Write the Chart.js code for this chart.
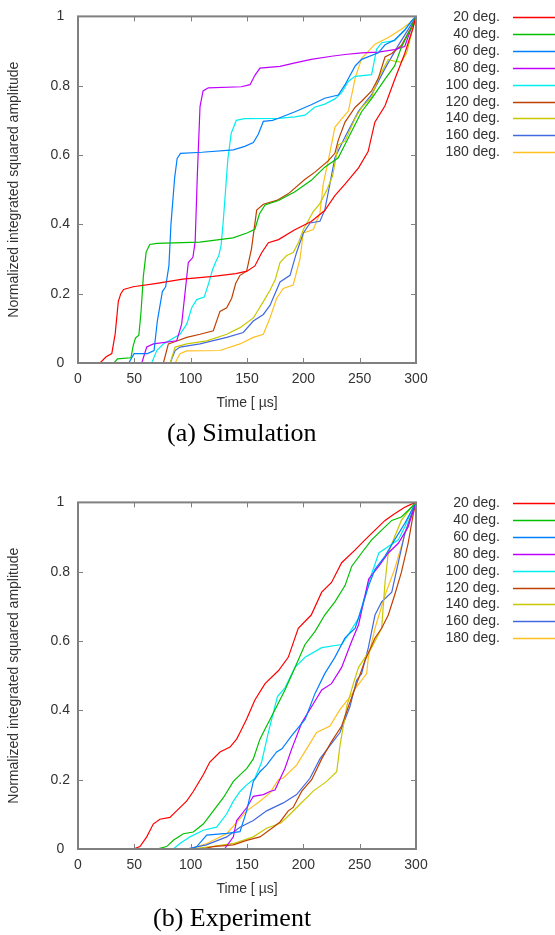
<!DOCTYPE html>
<html>
<head>
<meta charset="UTF-8">
<title>Normalized integrated squared amplitude</title>
<script src="https://cdn.jsdelivr.net/npm/chart.js"></script>
<style>
  body { margin: 0; width: 555px; height: 935px; background: #fff; position: relative; overflow: hidden; }
  canvas { position: absolute; left: 0; }
  .caption { position: absolute; white-space: nowrap; font-family: 'Liberation Serif', 'Times New Roman', serif; font-size: 26px; line-height: 30px; color: #000; }
</style>
</head>
<body>
<canvas id="simChart" width="555" height="450" style="top:0"></canvas>
<div class="caption" style="left:167px; top:418px">(a) Simulation</div>
<canvas id="expChart" width="555" height="450" style="top:486px"></canvas>
<div class="caption" style="left:153px; top:903px">(b) Experiment</div>

<script>
// series labels and colours (gnuplot defaults)
const angles = ['20 deg.', '40 deg.', '60 deg.', '80 deg.', '100 deg.', '120 deg.', '140 deg.', '160 deg.', '180 deg.'];
const colors = ['#ff0000', '#00c000', '#0080ff', '#c000ff', '#00eeee', '#c04000', '#c8c800', '#4169e1', '#ffc020'];
const xTicks = [0, 50, 100, 150, 200, 250, 300];   // Time [us]
const yTicks = [0, 0.2, 0.4, 0.6, 0.8, 1];

// (a) simulation, [time, amplitude]
const sim20 = [[0,0],[19.5,0],[25,0.018],[30,0.027],[33,0.084],[35.8,0.178],[38,0.2],[40.5,0.212],[49,0.22],[70,0.23],[93,0.242],[120,0.25],[140,0.258],[150,0.265],[157,0.28],[163,0.318],[169,0.347],[178,0.356],[192,0.384],[207,0.408],[219,0.44],[228,0.483],[237,0.516],[249,0.563],[257.5,0.61],[263.5,0.695],[272.5,0.742],[281,0.817],[290,0.893],[297.5,0.968],[300,1]];
const sim40 = [[0,0],[32,0],[35,0.012],[47,0.015],[49,0.05],[51,0.072],[54,0.08],[56,0.15],[58,0.25],[60.5,0.32],[63.7,0.342],[70,0.345],[108,0.349],[137.6,0.361],[150,0.375],[157,0.386],[161,0.43],[166,0.456],[178,0.469],[192.6,0.494],[207,0.527],[219,0.565],[231,0.592],[240,0.65],[251.7,0.725],[260.6,0.763],[272.5,0.819],[281,0.857],[287,0.911],[296,0.968],[300,1]];
const sim60 = [[0,0],[45,0],[49.8,0.027],[61.6,0.027],[67.5,0.036],[70.4,0.121],[74.9,0.206],[77.8,0.22],[80.7,0.281],[82.5,0.4],[85.8,0.535],[88,0.59],[91,0.605],[110,0.608],[137.9,0.615],[148,0.625],[155.6,0.636],[160,0.66],[164.5,0.697],[172.6,0.70],[178,0.706],[192.6,0.725],[207,0.745],[219,0.764],[231,0.773],[237,0.803],[246,0.857],[251.7,0.876],[266.6,0.895],[272.5,0.918],[281,0.932],[290,0.96],[296,0.987],[300,1]];
const sim80 = [[0,0],[56.6,0],[61,0.046],[67,0.055],[87.6,0.064],[92,0.112],[97.9,0.29],[102,0.305],[104,0.35],[106,0.55],[108.3,0.74],[111,0.785],[115.7,0.794],[145,0.797],[152.7,0.803],[157,0.83],[161.5,0.851],[179.3,0.856],[192.6,0.866],[207,0.876],[225,0.885],[237,0.89],[251.7,0.895],[266.6,0.897],[281,0.904],[290,0.913],[295,0.959],[300,1]];
const sim100 = [[0,0],[65.4,0],[69.9,0.036],[75.8,0.055],[90.5,0.083],[96.5,0.112],[101,0.16],[105.4,0.183],[112,0.19],[116,0.23],[119.5,0.27],[122,0.29],[125,0.31],[127,0.34],[128.7,0.4],[131,0.5],[133,0.588],[136,0.663],[140.5,0.70],[148,0.705],[178,0.706],[192.6,0.71],[201.5,0.715],[210,0.738],[219,0.747],[228,0.762],[234,0.78],[240,0.813],[246,0.827],[260.6,0.832],[265,0.905],[269.5,0.924],[281,0.93],[290,0.962],[300,1]];
const sim120 = [[0,0],[75.8,0],[80.2,0.055],[84.6,0.06],[96.5,0.074],[108.3,0.083],[120.1,0.093],[126,0.149],[132,0.159],[136.4,0.187],[140,0.23],[143.8,0.253],[149.7,0.265],[154,0.33],[158.6,0.441],[164.5,0.458],[176.4,0.469],[186.6,0.488],[201.5,0.53],[210,0.55],[222,0.583],[228,0.605],[231,0.643],[237,0.695],[246,0.738],[252,0.756],[260.6,0.785],[266.6,0.822],[272.5,0.883],[278.5,0.893],[287,0.916],[296,0.97],[300,1]];
const sim140 = [[0,0],[81.8,0],[86.2,0.046],[96.5,0.055],[114.2,0.064],[132,0.083],[143.8,0.102],[155.6,0.13],[164.5,0.177],[170.4,0.21],[175,0.24],[179.3,0.29],[185.2,0.31],[191,0.319],[196,0.35],[200,0.385],[208.8,0.437],[214.7,0.46],[220.7,0.498],[226,0.54],[231,0.629],[237,0.64],[246,0.706],[251.7,0.737],[260.6,0.767],[266.6,0.822],[275.4,0.876],[282,0.87],[287,0.868],[291.7,0.895],[296,0.951],[300,1]];
const sim160 = [[0,0],[81.8,0],[86.2,0.036],[90.5,0.046],[108.3,0.055],[132,0.074],[146.7,0.088],[155.6,0.121],[164.5,0.14],[170.4,0.166],[179.3,0.234],[188.2,0.253],[194,0.319],[200,0.375],[206,0.404],[214.7,0.409],[219,0.441],[223.6,0.517],[228,0.592],[237,0.652],[249,0.727],[260.6,0.774],[272.5,0.85],[284,0.915],[293,0.962],[300,1]];
const sim180 = [[0,0],[86.2,0],[90.5,0.027],[96.5,0.035],[126,0.036],[143.8,0.055],[155.6,0.074],[164.5,0.083],[170.4,0.13],[176.3,0.187],[182.2,0.215],[191,0.225],[197,0.3],[200,0.375],[208.8,0.385],[214.7,0.432],[217.7,0.517],[222,0.582],[228,0.68],[234,0.704],[240,0.727],[246,0.822],[251.7,0.878],[263.6,0.92],[275.4,0.939],[287,0.963],[296,0.985],[300,1]];

// (b) experiment, [time, amplitude]
const exp20 = [[0,0],[49,0],[55,0.007],[61,0.035],[66.8,0.072],[72.7,0.086],[81.6,0.091],[87.5,0.11],[96.4,0.138],[102.3,0.166],[111.2,0.214],[117,0.251],[126,0.28],[134.9,0.294],[140.8,0.317],[143.8,0.336],[149.7,0.375],[157,0.43],[166,0.477],[178,0.515],[186.6,0.553],[195.5,0.637],[207,0.675],[216.3,0.741],[225,0.769],[234,0.826],[246,0.863],[254.7,0.892],[263.6,0.92],[272.5,0.948],[281,0.967],[290,0.986],[296,0.995],[300,1]];
const exp40 = [[0,0],[69.8,0],[78.7,0.007],[84.6,0.025],[93.5,0.044],[102.3,0.049],[111.2,0.072],[120.1,0.11],[129,0.148],[137.9,0.195],[143.8,0.214],[149.7,0.232],[155.6,0.26],[161.5,0.317],[167.4,0.355],[176.3,0.411],[183.7,0.459],[192.6,0.524],[201.5,0.59],[210.4,0.628],[219,0.675],[228,0.713],[237,0.76],[243,0.816],[251.7,0.854],[260.6,0.892],[269.5,0.92],[278.5,0.948],[287,0.958],[296,0.986],[300,1]];
const exp60 = [[0,0],[100,0],[105.4,0.007],[114.2,0.04],[132,0.045],[143.8,0.05],[149.7,0.11],[155.6,0.195],[161.5,0.223],[167.4,0.242],[176.3,0.28],[181,0.289],[189.7,0.327],[201.5,0.374],[210.4,0.449],[219,0.506],[228,0.553],[237,0.609],[246,0.637],[251.7,0.694],[258,0.76],[263.6,0.807],[272.5,0.845],[281,0.892],[290,0.939],[296,0.976],[300,1]];
const exp80 = [[0,0],[130,0],[137.9,0.035],[140.8,0.082],[149.7,0.119],[155.6,0.152],[164.5,0.157],[170.4,0.166],[174.8,0.17],[183.7,0.233],[189.7,0.289],[198.6,0.364],[207.4,0.411],[216.3,0.459],[225,0.477],[234,0.524],[243,0.6],[249,0.647],[258,0.779],[267,0.816],[275.4,0.854],[284.3,0.882],[293,0.929],[297.6,0.976],[300,1]];
const exp100 = [[0,0],[84.6,0],[90.5,0.016],[99.4,0.035],[111.2,0.054],[123,0.063],[131.9,0.101],[137.9,0.138],[143.8,0.166],[149.7,0.185],[157,0.204],[163,0.251],[168.9,0.336],[177,0.44],[183.7,0.465],[192.6,0.524],[201.5,0.553],[216.3,0.581],[234,0.59],[240,0.619],[249,0.666],[258,0.769],[267,0.854],[275.4,0.873],[284.3,0.892],[290,0.929],[296,0.976],[300,1]];
const exp120 = [[0,0],[110,0],[120,0.007],[137.9,0.012],[149.7,0.025],[161.5,0.035],[173.3,0.063],[179.3,0.078],[186.6,0.11],[191,0.12],[198.6,0.167],[207.4,0.2],[216.3,0.26],[225,0.31],[234,0.355],[240,0.411],[246,0.465],[254.7,0.543],[263.6,0.609],[269.5,0.637],[275.4,0.675],[281,0.732],[287,0.798],[293,0.882],[297.6,0.967],[300,1]];
const exp140 = [[0,0],[100,0],[120,0.008],[137.9,0.016],[155.6,0.035],[167.4,0.06],[180,0.075],[185.2,0.091],[197,0.129],[208.8,0.167],[220.7,0.195],[229.6,0.223],[232.5,0.298],[238.5,0.411],[244.4,0.477],[249,0.524],[260.6,0.581],[269.5,0.637],[272.5,0.769],[275.4,0.854],[281,0.901],[287,0.948],[296,0.986],[300,1]];
const exp160 = [[0,0],[96,0],[114,0.012],[132,0.035],[143.8,0.063],[155.6,0.082],[167.4,0.11],[182.2,0.133],[194,0.157],[205.9,0.204],[214.7,0.26],[223.6,0.298],[232.5,0.336],[241.4,0.411],[247.3,0.487],[251.7,0.506],[257.7,0.581],[263.6,0.675],[269.5,0.713],[278.5,0.741],[284.3,0.826],[290,0.91],[296,0.967],[300,1]];
const exp180 = [[0,0],[100,0],[114.2,0.016],[132,0.044],[149.7,0.11],[161.5,0.138],[170.4,0.162],[177.8,0.2],[182.2,0.205],[194,0.242],[202.9,0.289],[211.8,0.336],[223.6,0.355],[232.5,0.402],[241.4,0.439],[247.3,0.468],[256.2,0.506],[257.7,0.553],[263.6,0.637],[272.5,0.732],[281,0.807],[287,0.873],[293,0.939],[297.6,0.986],[300,1]];

const simSeries = [sim20, sim40, sim60, sim80, sim100, sim120, sim140, sim160, sim180];
const expSeries = [exp20, exp40, exp60, exp80, exp100, exp120, exp140, exp160, exp180];

Chart.defaults.font.family = "'Liberation Sans', Arial, sans-serif";
Chart.defaults.font.size = 14;
Chart.defaults.color = '#333';

// gnuplot style box with inward ticks on all sides
const frame = {
  id: 'frame',
  afterDatasetsDraw(chart, args, o) {
    const {ctx, chartArea: a, scales: {x, y}} = chart;
    ctx.save();
    ctx.strokeStyle = o.color;
    ctx.lineWidth = 1;
    ctx.beginPath();
    xTicks.forEach(v => {
      const px = Math.round(x.getPixelForValue(v)) + 0.5;
      ctx.moveTo(px, a.bottom); ctx.lineTo(px, a.bottom - o.len);
      ctx.moveTo(px, a.top); ctx.lineTo(px, a.top + o.len);
    });
    yTicks.forEach(v => {
      const py = Math.round(y.getPixelForValue(v)) + 0.5;
      ctx.moveTo(a.left, py); ctx.lineTo(a.left + o.len, py);
      ctx.moveTo(a.right, py); ctx.lineTo(a.right - o.len, py);
    });
    ctx.stroke();
    ctx.lineWidth = o.width;
    ctx.strokeRect(a.left, a.top, a.right - a.left, a.bottom - a.top);
    ctx.restore();
  }
};

// key on the right: label then line sample
const keyList = {
  id: 'keyList',
  afterDraw(chart, args, o) {
    const ctx = chart.ctx;
    ctx.save();
    ctx.font = "14px 'Liberation Sans', Arial, sans-serif";
    ctx.textAlign = 'right';
    ctx.textBaseline = 'middle';
    chart.data.datasets.forEach((ds, i) => {
      const yy = Math.round(o.top + i * o.step) + 0.5;
      ctx.fillStyle = '#333';
      ctx.fillText(ds.label, o.textRight, yy);
      ctx.strokeStyle = ds.borderColor;
      ctx.lineWidth = 1.3;
      ctx.beginPath();
      ctx.moveTo(o.lineFrom, yy);
      ctx.lineTo(o.lineTo, yy);
      ctx.stroke();
    });
    ctx.restore();
  }
};

function makeChart(id, series) {
  return new Chart(document.getElementById(id), {
    type: 'line',
    data: {
      datasets: series.map((pts, i) => ({
        label: angles[i],
        data: pts.map(p => ({x: p[0], y: p[1]})),
        borderColor: colors[i],
        borderWidth: 1.2,
        pointRadius: 0,
        tension: 0,
        fill: false
      }))
    },
    options: {
      responsive: false,
      animation: false,
      layout: {padding: {left: 0, top: 9, right: 139, bottom: 37}},
      plugins: {
        legend: {display: false},
        tooltip: {enabled: false},
        frame: {color: '#808080', width: 2, len: 5},
        keyList: {top: 17, step: 16.9, textRight: 500, lineFrom: 513, lineTo: 555}
      },
      scales: {
        x: {
          type: 'linear', min: 0, max: 300,
          afterFit: s => { s.height = 50; },
          afterBuildTicks: s => { s.ticks = xTicks.map(v => ({value: v})); },
          grid: {display: false, drawTicks: false},
          border: {display: false},
          ticks: {padding: 8, maxRotation: 0, autoSkip: false, callback: v => String(v)},
          title: {display: true, text: 'Time [ µs]', padding: {top: 0, bottom: 1}}
        },
        y: {
          type: 'linear', min: 0, max: 1,
          afterFit: s => { s.width = 78; },
          afterBuildTicks: s => { s.ticks = yTicks.map(v => ({value: v})); },
          grid: {display: false, drawTicks: false},
          border: {display: false},
          ticks: {padding: 8, crossAlign: 'center', callback: v => String(v)},
          title: {display: true, text: 'Normalized integrated squared amplitude', padding: {top: 6, bottom: 0}}
        }
      }
    },
    plugins: [frame, keyList]
  });
}

makeChart('simChart', simSeries);
makeChart('expChart', expSeries);
</script>
</body>
</html>
